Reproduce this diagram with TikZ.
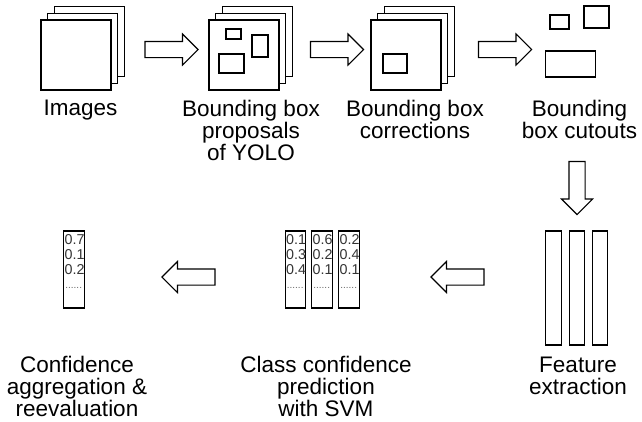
\documentclass[tikz,border=0pt]{standalone}
\usepackage{fontspec}
\setmainfont{Liberation Sans}
\usetikzlibrary{shapes.arrows, positioning, calc}

\begin{document}
\begin{tikzpicture}[
    x=1pt, y=-1pt,
    sheet/.style={rectangle, draw, fill=white, minimum size=70pt, inner sep=0pt, line width=1.2pt},
    cutbox/.style={rectangle, draw, inner sep=0pt, line width=1.2pt},
    flow/.style={single arrow, draw, fill=white, line width=1.1pt, inner xsep=0pt, inner ysep=7.5pt, single arrow head extend=7.5pt, single arrow tip angle=90, minimum height=53pt},
    column/.style={rectangle, draw, inner sep=0pt, line width=1.2pt, minimum width=20.5pt, minimum height=77pt},
    bar/.style={rectangle, draw, inner sep=0pt, line width=1.2pt, minimum width=15.5pt, minimum height=114pt},
    score/.style={font=\fontsize{14.3}{14.6}\selectfont, text=black!80, align=left, inner sep=0pt, anchor=north west},
    dots/.style={font=\fontsize{10}{10}\selectfont, text=black!60, inner sep=0pt, anchor=base west},
    label/.style={font=\fontsize{22.5}{22}\selectfont, align=center, inner sep=0pt, anchor=north}
]
\useasboundingbox (0,0) rectangle (642,421);

% Images
\node[sheet] (img_back) at (89.3,41.7) {};
\node[sheet] (img_mid) at (82.7,48.3) {};
\node[sheet] (img) at (76,55) {};
\node[label] (img_lbl) at (80.5,100) {Images};

% Proposals of YOLO
\node[sheet] (prop_back) at (257.3,41.7) {};
\node[sheet] (prop_mid) at (250.7,48.3) {};
\node[sheet] (prop) at (244,55) {};
\node[cutbox, minimum width=15pt, minimum height=10pt] (prop_a) at (233.5,34) {};
\node[cutbox, minimum width=16pt, minimum height=22pt] (prop_b) at (260,46) {};
\node[cutbox, minimum width=25pt, minimum height=19pt] (prop_c) at (231.5,63.5) {};
\node[label] (prop_lbl) at (251,100) {Bounding box\\proposals\\of YOLO};

% Corrections
\node[sheet] (corr_back) at (419.3,41.7) {};
\node[sheet] (corr_mid) at (412.7,48.3) {};
\node[sheet] (corr) at (406,55) {};
\node[cutbox, minimum width=24pt, minimum height=19pt] (corr_a) at (395,63.5) {};
\node[label] (corr_lbl) at (415,100) {Bounding box\\corrections};

% Cutouts
\node[cutbox, minimum width=19pt, minimum height=14pt] (cut_a) at (559.5,22) {};
\node[cutbox, minimum width=25pt, minimum height=22pt] (cut_b) at (596.5,17) {};
\node[cutbox, minimum width=50pt, minimum height=26pt] (cut_c) at (570.5,64) {};
\node[label] (cut_lbl) at (579.5,100) {Bounding\\box cutouts};

% Feature extraction
\node[bar] (feat_a) at (553.5,288) {};
\node[bar] (feat_b) at (577,288) {};
\node[bar] (feat_c) at (600,288) {};
\node[label] (feat_lbl) at (578,357) {Feature\\extraction};

% SVM
\node[column] (svm_a) at (295.5,269.5) {};
\node[column] (svm_b) at (322,269.5) {};
\node[column] (svm_c) at (349,269.5) {};
\node[score] at ($(svm_a.north west)+(1.3,4.3)$) {0.1\\0.3\\0.4};
\node[score] at ($(svm_b.north west)+(1.3,4.3)$) {0.6\\0.2\\0.1};
\node[score] at ($(svm_c.north west)+(1.3,4.3)$) {0.2\\0.4\\0.1};
\node[dots] at ($(svm_a.north west)+(2,58)$) {......};
\node[dots] at ($(svm_b.north west)+(2,58)$) {......};
\node[dots] at ($(svm_c.north west)+(2,58)$) {......};
\node[label] (svm_lbl) at (326,356) {Class confidence\\prediction\\with SVM};

% Aggregation
\node[column] (agg) at (74,269.5) {};
\node[score] at ($(agg.north west)+(1.3,4.3)$) {0.7\\0.1\\0.2};
\node[dots] at ($(agg.north west)+(2,58)$) {......};
\node[label] (agg_lbl) at (77,356) {Confidence\\aggregation \&\\reevaluation};

% Arrows
\node[flow] (arr_a) at (167.5,49.5) {};
\node[flow] (arr_b) at (333,49.5) {};
\node[flow] (arr_c) at (501,49.5) {};
\node[flow, rotate=-90] (arr_d) at (577,184) {};
\node[flow, rotate=180] (arr_e) at (461.5,277) {};
\node[flow, rotate=180] (arr_f) at (192.5,277) {};

\end{tikzpicture}
\end{document}
